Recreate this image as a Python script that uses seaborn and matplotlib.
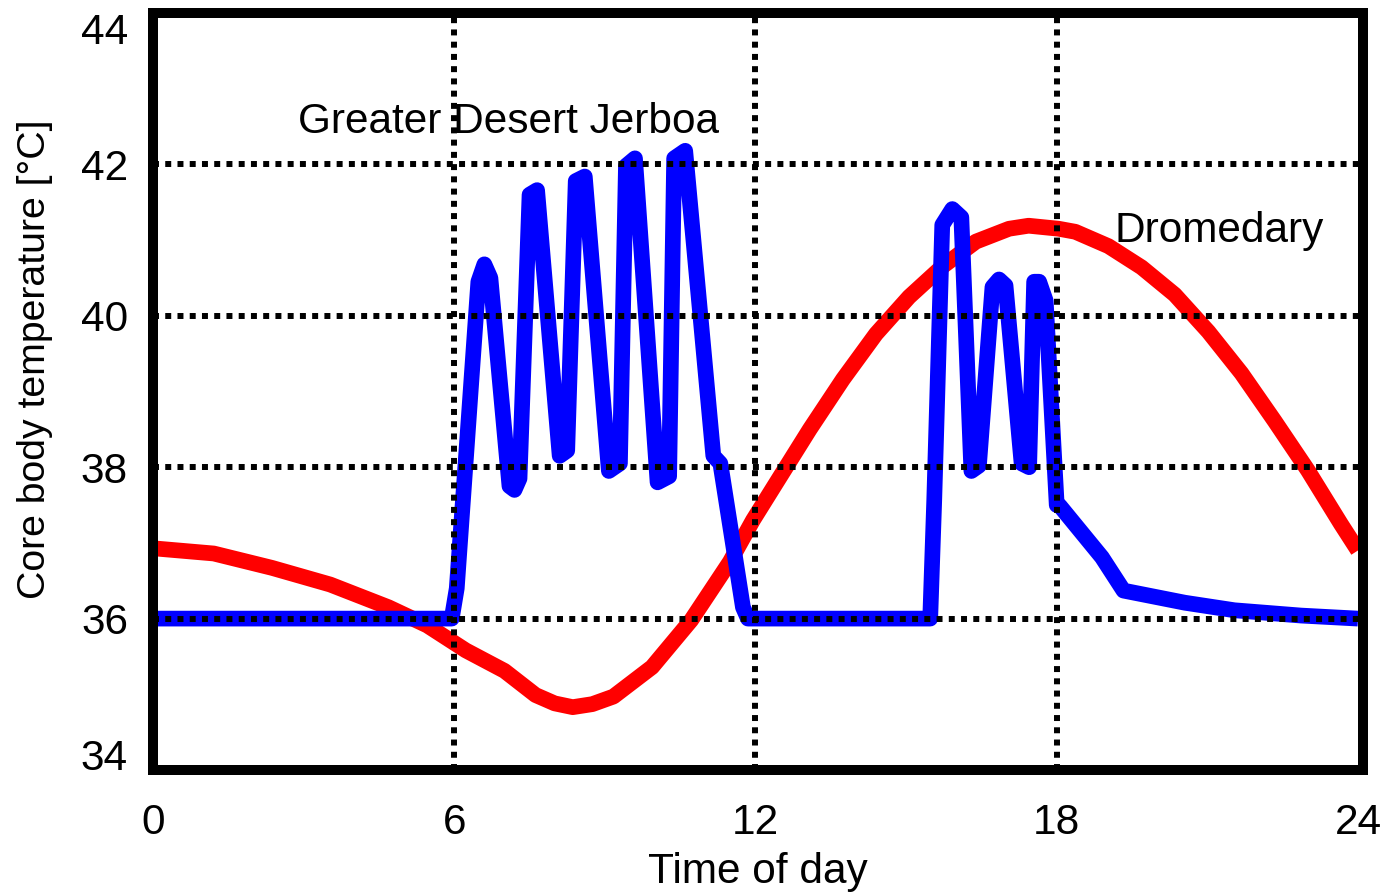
import matplotlib
matplotlib.use("Agg")
import matplotlib.pyplot as plt
import seaborn as sns
import pandas as pd

# ---- data ----
dromedary_t = [0.0, 0.16, 1.21, 2.37, 3.53, 4.69, 5.46, 6.23, 7.0, 7.62, 8.0, 8.36, 8.75,
               9.17, 9.94, 10.72, 11.49, 11.95, 12.42, 13.08, 13.74, 14.4, 15.06, 15.72,
               16.39, 17.05, 17.44, 18.04, 18.37, 19.03, 19.69, 20.35, 21.02, 21.68,
               22.34, 23.0, 23.66, 24.0]
dromedary_T = [36.93, 36.92, 36.86, 36.67, 36.45, 36.15, 35.91, 35.58, 35.31, 34.99,
               34.88, 34.83, 34.87, 34.97, 35.36, 35.98, 36.75, 37.3, 37.8, 38.5,
               39.16, 39.76, 40.25, 40.65, 40.98, 41.15, 41.19, 41.15, 41.11, 40.92,
               40.64, 40.28, 39.79, 39.24, 38.61, 37.96, 37.25, 36.9]

jerboa_t = [0.0, 5.95, 6.05, 6.48, 6.60, 6.72, 7.10, 7.20, 7.30, 7.50, 7.65, 8.10, 8.25,
            8.42, 8.60, 9.08, 9.30, 9.42, 9.60, 10.05, 10.28, 10.38, 10.60, 11.16, 11.30,
            11.75, 11.85, 15.48, 15.56, 15.72, 15.92, 16.10, 16.30, 16.45, 16.72, 16.85,
            16.98, 17.30, 17.45, 17.55, 17.65, 17.78, 18.00, 18.06, 18.90, 19.33, 20.55,
            21.54, 22.87, 24.0]
jerboa_T = [36.0, 36.0, 36.4, 40.45, 40.68, 40.50, 37.75, 37.70, 37.85, 41.60, 41.66,
            38.15, 38.22, 41.78, 41.84, 37.95, 38.05, 41.98, 42.08, 37.80, 37.88, 42.08,
            42.18, 38.15, 38.05, 36.15, 36.0, 36.0, 37.56, 41.20, 41.41, 41.30, 37.95,
            38.02, 40.38, 40.48, 40.40, 38.05, 38.00, 40.45, 40.45, 40.20, 37.50, 37.49,
            36.81, 36.37, 36.21, 36.11, 36.04, 36.0]

x_ticks = [0, 6, 12, 18, 24]
y_ticks = [34, 36, 38, 40, 42, 44]

label_jerboa = "Greater Desert Jerboa"
label_dromedary = "Dromedary"

# ---- style ----
sns.set_theme(style="white")
plt.rcParams["font.family"] = ["Liberation Sans", "DejaVu Sans"]
FS = 30.5
FS_Y = 28.3

fig = plt.figure(figsize=(13.83, 8.92), dpi=100)
ax = fig.add_axes([153 / 1383, (892 - 770) / 892, 1210 / 1383, 757 / 892])

df_d = pd.DataFrame({"t": dromedary_t, "T": dromedary_T})
df_j = pd.DataFrame({"t": jerboa_t, "T": jerboa_T})

sns.lineplot(data=df_d, x="t", y="T", color="#ff0000", linewidth=11.3, sort=False,
             ax=ax, zorder=2, solid_joinstyle="round", solid_capstyle="butt")
sns.lineplot(data=df_j, x="t", y="T", color="#0000ff", linewidth=11.3, sort=False,
             ax=ax, zorder=2.1, solid_joinstyle="round", solid_capstyle="butt")

ax.set_xlim(0, 24.1)
ax.set_ylim(34, 44)
ax.set_xticks(x_ticks)
ax.set_yticks(y_ticks)
ax.set_xticklabels([str(v) for v in x_ticks])
ax.set_yticklabels([str(v) for v in y_ticks])

ax.set_axisbelow(False)
ax.grid(True, color="black", linestyle=(0, (1, 1.05)), linewidth=4.3, zorder=3)
# the x=24 gridline would sit just inside the right frame; the reference has none
ax.xaxis.get_major_ticks()[-1].gridline.set_visible(False)

for s in ax.spines.values():
    s.set_visible(True)
    s.set_color("black")
    s.set_linewidth(7.2)
    s.set_zorder(4)

ax.tick_params(axis="both", length=0, labelsize=FS, colors="black")
ax.tick_params(axis="y", pad=18)
ax.tick_params(axis="x", pad=24)

ylabels = ax.get_yticklabels()
ylabels[0].set_va("baseline")
ylabels[-1].set_va("top")

ax.set_xlabel("Time of day", fontsize=FS, color="black")
ax.set_ylabel("Core body temperature [°C]", fontsize=FS_Y, color="black")
ax.xaxis.set_label_coords(0.5, -0.108)
ax.yaxis.set_label_coords(-0.083, 0.543)

ax.text(2.89, 42.56, label_jerboa, fontsize=FS, ha="left", va="center", color="black")
ax.text(19.16, 41.12, label_dromedary, fontsize=FS, ha="left", va="center", color="black")

fig.savefig("out.png", dpi=100)
